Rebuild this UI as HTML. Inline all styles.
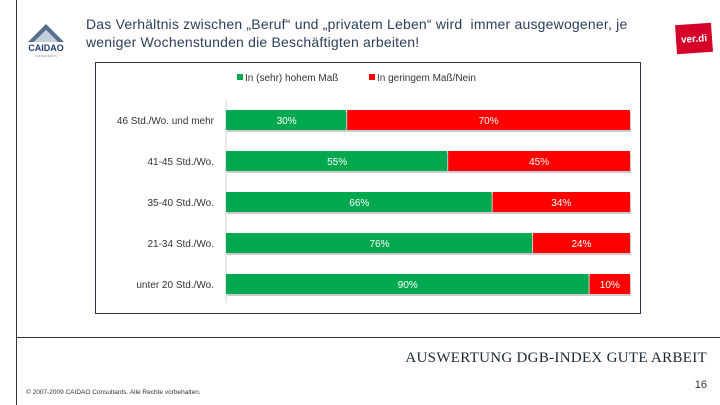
<!DOCTYPE html>
<html><head><meta charset="utf-8"><style>
body{margin:0;width:720px;height:405px;background:#fff;position:relative;overflow:hidden;font-family:"Liberation Sans",sans-serif}
.abs{position:absolute}
</style></head><body>
<div class="abs" style="left:16px;top:0;width:1px;height:405px;background:#333"></div>
<div class="abs" style="left:24px;top:18px;width:46px;height:40px">
<svg width="46" height="40"><path d="M4 24 L22 6 L40 24 L34 24 L22 12 L10 24Z" fill="#5a6f8f"/><path d="M10 24 L22 12 L34 24Z" fill="#c5cfdc"/>
<text x="22" y="33" font-size="9" font-weight="bold" text-anchor="middle" fill="#1f3c6e" font-family="Liberation Sans">CAIDAO</text>
<text x="22" y="39" font-size="3" text-anchor="middle" fill="#888">CONSULTANTS</text></svg></div>
<div class="abs" style="left:86px;top:15px;width:570px;font-size:14px;line-height:18px;color:#2b3f5c;letter-spacing:0.2px">Das Verhältnis zwischen „Beruf“ und „privatem Leben“ wird&nbsp; immer ausgewogener, je weniger Wochenstunden die Beschäftigten arbeiten!</div>
<div class="abs" style="left:676px;top:24px;width:36px;height:29px;background:#d4002a;transform:rotate(-4deg);color:#fff;font-size:10px;font-weight:bold;text-align:center;line-height:32px">ver.di</div>
<div class="abs" style="left:95px;top:62px;width:546px;height:252px;border:1px solid #2b3440;box-sizing:border-box"></div>
<svg class="abs" style="left:0;top:0" width="720" height="405" id="chart"></svg>
<div class="abs" style="left:16px;top:337px;width:704px;height:1px;background:#333"></div>
<div class="abs" style="left:400px;top:350px;width:307px;text-align:right;font-family:'Liberation Serif',serif;font-size:15px;color:#1a2533;letter-spacing:0.3px">AUSWERTUNG DGB-INDEX GUTE ARBEIT</div>
<div class="abs" style="left:680px;top:379px;width:27px;text-align:right;font-size:11px;color:#333">16</div>
<div class="abs" style="left:26px;top:389px;font-size:6.5px;color:#333">© 2007-2009 CAIDAO Consultants. Alle Rechte vorbehalten.</div>
<script>
const categories=["46 Std./Wo. und mehr","41-45 Std./Wo.","35-40 Std./Wo.","21-34 Std./Wo.","unter 20 Std./Wo."];
const seriesHigh=[30,55,66,76,90];
const seriesLow=[70,45,34,24,10];
const seriesNames=["In (sehr) hohem Maß","In geringem Maß/Nein"];
const NS="http://www.w3.org/2000/svg";
const svg=document.getElementById('chart');
const x0=226,x1=630,yTop=120,yStep=41,bh=20;
const xs=v=>x0+(x1-x0)*v/100;
const ys=i=>yTop+i*yStep;
function mk(t,a){const e=document.createElementNS(NS,t);for(const k in a)e.setAttribute(k,a[k]);svg.appendChild(e);return e;}
const ax=mk('line',{x1:x0,x2:x0,y1:100,y2:303,stroke:'#d0d0d0'});


const cols=['#00a84f','#ff0000'];
const lx=[245,377];
seriesNames.forEach((n,j)=>{
 const r=mk('rect',{x:lx[j]-8,y:74,width:6,height:6,fill:cols[j]});
 
 
 const t=mk('text',{x:lx[j]-0,y:81,'font-size':10,fill:'#333'});t.textContent=n;
 
 
});
categories.forEach((c,i)=>{
 const y=ys(i);
 const l=mk('text',{x:214,y:y+4,'font-size':10,fill:'#333','text-anchor':'end'});l.textContent=c;
 
 
 const vals=[seriesHigh[i],seriesLow[i]];let acc=0;
 vals.forEach((v,j)=>{
  const xa=xs(acc),xb=xs(acc+v);
  mk('rect',{x:xa+1,y:y-bh/2+2,width:xb-xa,height:bh,fill:'#ccc'});
  const r=mk('rect',{x:xa,y:y-bh/2,width:xb-xa-(j?0:1),height:bh,fill:cols[j]});
  
  
  const t=mk('text',{x:(xa+xb)/2,y:y+4,'font-size':10,fill:'#fff','text-anchor':'middle'});t.textContent=v+'%';
  
  
  acc+=v;
 });
});
</script>
</body></html>
